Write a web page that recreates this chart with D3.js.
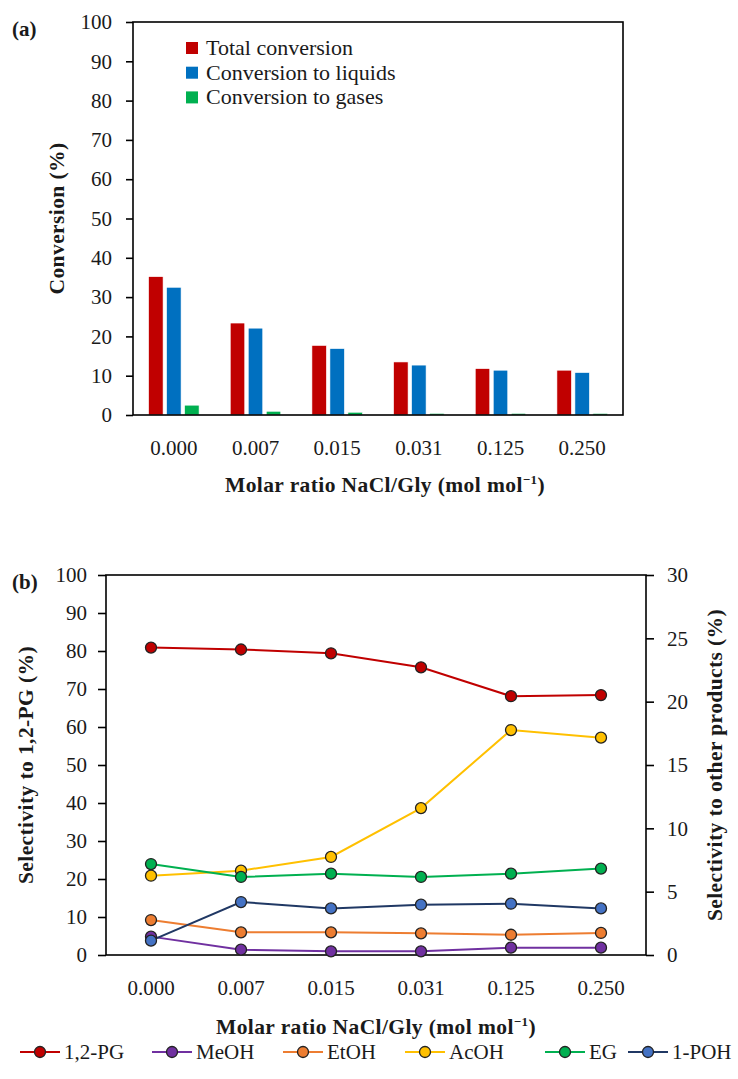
<!DOCTYPE html>
<html><head><meta charset="utf-8">
<script src="https://cdn.jsdelivr.net/npm/d3@7"></script>
<style>
body{margin:0;background:#fff;}
text{font-family:"Liberation Serif","Times New Roman",serif;fill:#1a1a1a;}
</style></head>
<body>
<svg id="c" width="738" height="1079"></svg>
<script>
// ---------- data ----------
const categories = ["0.000","0.007","0.015","0.031","0.125","0.250"];
const totalConversion = [35.2, 23.4, 17.7, 13.5, 11.8, 11.4];
const liquidsConversion = [32.5, 22.1, 16.9, 12.7, 11.4, 10.8];
const gasesConversion = [2.5, 0.95, 0.7, 0.42, 0.42, 0.4];
const barSeriesNames = ["Total conversion","Conversion to liquids","Conversion to gases"];
const barColors = ["#C00000","#0070C0","#00B050"];

const pg12 = [80.9, 80.4, 79.4, 75.7, 68.1, 68.4];        // left axis
const meoh = [1.45, 0.42, 0.29, 0.29, 0.58, 0.58];       // right axis
const etoh = [2.76, 1.79, 1.79, 1.71, 1.6, 1.74];
const acoh = [6.26, 6.66, 7.74, 11.6, 17.76, 17.16];
const eg   = [7.18, 6.16, 6.42, 6.16, 6.42, 6.82];
const poh  = [1.13, 4.18, 3.68, 3.97, 4.05, 3.68];
const lineSeriesNames = ["1,2-PG","MeOH","EtOH","AcOH","EG","1-POH"];
const lineColors = ["#C00000","#7030A0","#ED7D31","#FFC000","#00B050","#203864"];
const markerColors = ["#C00000","#7030A0","#ED7D31","#FFC000","#00B050","#4472C4"];

const leftTicksA = [0,10,20,30,40,50,60,70,80,90,100];
const leftTicksB = [0,10,20,30,40,50,60,70,80,90,100];
const rightTicksB = [0,5,10,15,20,25,30];

const svg = d3.select("#c");
const FS = 21, TFS = 21.5;

function supTitle(g, x, y, rot){
  const t = g.append("text").attr("x",x).attr("y",y).attr("text-anchor","middle")
    .attr("font-weight","bold").attr("font-size",TFS).attr("letter-spacing",0.4);
  if(rot) t.attr("transform",`rotate(${rot},${x},${y})`);
  return t;
}
function styleTicks(sel){
  sel.selectAll("text").attr("font-size",FS).attr("font-family","Liberation Serif").attr("fill","#222");
}

// ---------- chart (a) ----------
{
  const L=133, R=623, T=22, B=415;
  const x = d3.scaleBand().domain(categories).range([L,R]);
  const y = d3.scaleLinear().domain([0,100]).range([B,T]);
  const g = svg.append("g");
  const step = 18, bw = 14.5;
  const series = [totalConversion, liquidsConversion, gasesConversion];
  series.forEach((vals,si)=>{
    g.selectAll(null).data(vals).enter().append("rect")
      .attr("x",(d,i)=>x(categories[i])+x.bandwidth()/2 + (si-1)*step - bw/2)
      .attr("y",d=>y(d)).attr("width",bw).attr("height",d=>B-y(d))
      .attr("fill",barColors[si]).attr("stroke","#fff").attr("stroke-width",0.6);
  });
  g.append("rect").attr("x",L).attr("y",T).attr("width",R-L).attr("height",B-T)
    .attr("fill","none").attr("stroke","#000").attr("stroke-width",1.6);
  const ay = g.append("g").attr("transform",`translate(${L},0)`)
    .call(d3.axisLeft(y).tickValues(leftTicksA).tickSize(7).tickPadding(14));
  ay.select(".domain").remove();
  ay.selectAll("line").attr("stroke","#000").attr("stroke-width",1.6);
  styleTicks(ay);
  const ax = g.append("g").attr("transform",`translate(0,${B})`)
    .call(d3.axisBottom(x).tickSize(0).tickPadding(25));
  ax.select(".domain").remove();
  styleTicks(ax);
  const tx = supTitle(g,(L+R)/2+7,492,0);
  tx.append("tspan").text("Molar ratio NaCl/Gly (mol mol");
  tx.append("tspan").attr("dy",-8).attr("font-size",13).text("\u22121");
  tx.append("tspan").attr("dy",8).text(")");
  supTitle(g,64,(T+B)/2,-90).text("Conversion (%)");
  g.append("text").attr("x",12).attr("y",36).attr("font-weight","bold").attr("font-size",21).text("(a)");
  barSeriesNames.forEach((n,i)=>{
    const yy = 48 + i*24.7;
    g.append("rect").attr("x",186).attr("y",yy-6).attr("width",12).attr("height",12).attr("fill",barColors[i]);
    g.append("text").attr("x",206).attr("y",yy+7).attr("font-size",FS+1).text(n);
  });
}

// ---------- chart (b) ----------
{
  const L=106, R=646, T=575, B=955;
  const x = d3.scaleBand().domain(categories).range([L,R]);
  const yl = d3.scaleLinear().domain([0,100]).range([B,T]);
  const yr = d3.scaleLinear().domain([0,30]).range([B,T]);
  const g = svg.append("g");
  g.append("rect").attr("x",L).attr("y",T).attr("width",R-L).attr("height",B-T)
    .attr("fill","none").attr("stroke","#000").attr("stroke-width",1.6);
  const ayl = g.append("g").attr("transform",`translate(${L},0)`)
    .call(d3.axisLeft(yl).tickValues(leftTicksB).tickSize(8).tickPadding(11));
  ayl.select(".domain").remove();
  ayl.selectAll("line").attr("stroke","#000").attr("stroke-width",1.6);
  styleTicks(ayl);
  const ayr = g.append("g").attr("transform",`translate(${R},0)`)
    .call(d3.axisRight(yr).tickValues(rightTicksB).tickSize(8).tickPadding(13));
  ayr.select(".domain").remove();
  ayr.selectAll("line").attr("stroke","#000").attr("stroke-width",1.6);
  styleTicks(ayr);
  const ax = g.append("g").attr("transform",`translate(0,${B})`)
    .call(d3.axisBottom(x).tickSize(0).tickPadding(25));
  ax.select(".domain").remove();
  styleTicks(ax);

  const cx = c => x(c)+x.bandwidth()/2;
  const all = [[pg12,yl],[meoh,yr],[etoh,yr],[acoh,yr],[eg,yr],[poh,yr]];
  all.forEach(([vals,sc],si)=>{
    const line = d3.line().x((d,i)=>cx(categories[i])).y(d=>sc(d));
    g.append("path").datum(vals).attr("d",line).attr("fill","none")
      .attr("stroke",lineColors[si]).attr("stroke-width",2);
  });
  all.forEach(([vals,sc],si)=>{
    g.selectAll(null).data(vals).enter().append("circle")
      .attr("cx",(d,i)=>cx(categories[i])).attr("cy",d=>sc(d)).attr("r",5.5)
      .attr("fill",markerColors[si]).attr("stroke","#222").attr("stroke-width",1.3);
  });

  const tx = supTitle(g,(L+R)/2,1034,0);
  tx.append("tspan").text("Molar ratio NaCl/Gly (mol mol");
  tx.append("tspan").attr("dy",-8).attr("font-size",13).text("\u22121");
  tx.append("tspan").attr("dy",8).text(")");
  supTitle(g,33,(T+B)/2,-90).text("Selectivity to 1,2-PG (%)");
  supTitle(g,722,(T+B)/2,-90).text("Selectivity to other products (%)");
  g.append("text").attr("x",12).attr("y",589).attr("font-weight","bold").attr("font-size",21).text("(b)");

  const lx = [20,152,283,405,545,628];
  lineSeriesNames.forEach((n,i)=>{
    const yy = 1052;
    g.append("line").attr("x1",lx[i]).attr("x2",lx[i]+40).attr("y1",yy).attr("y2",yy)
      .attr("stroke",lineColors[i]).attr("stroke-width",2);
    g.append("circle").attr("cx",lx[i]+20).attr("cy",yy).attr("r",5.5)
      .attr("fill",markerColors[i]).attr("stroke","#222").attr("stroke-width",1.3);
    g.append("text").attr("x",lx[i]+44).attr("y",yy+7).attr("font-size",FS).text(n);
  });
}
</script>
</body></html>
